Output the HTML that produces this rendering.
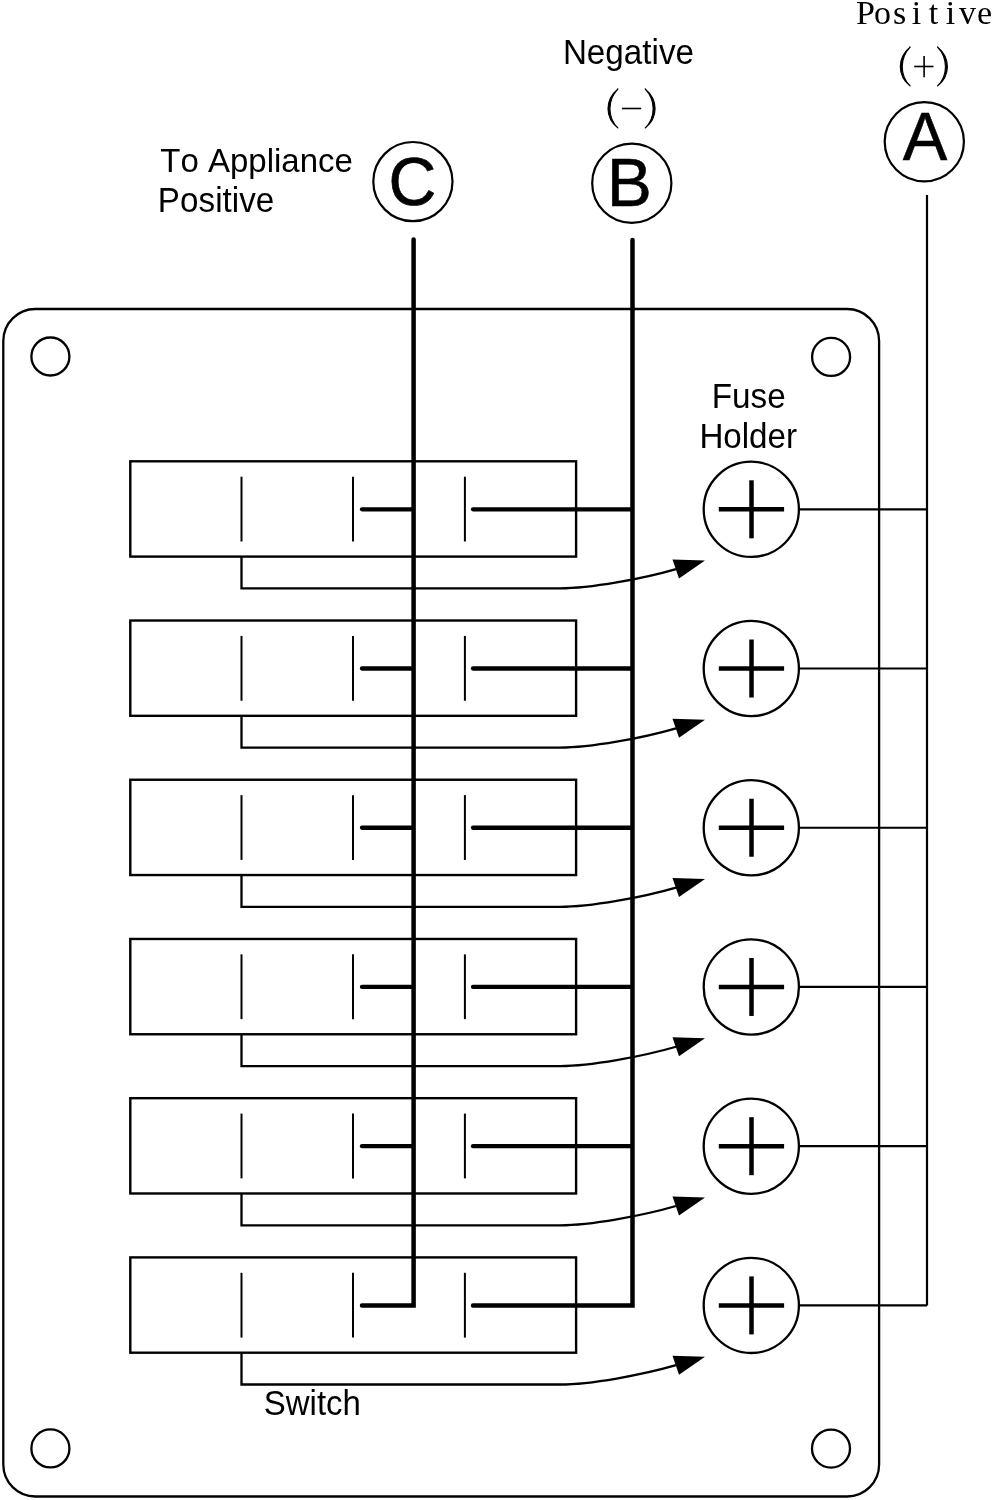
<!DOCTYPE html>
<html><head><meta charset="utf-8"><style>
html,body{margin:0;padding:0;background:#fff;}
body{width:993px;height:1500px;overflow:hidden;position:relative;}
svg{position:absolute;left:0;top:0;filter:grayscale(1);}
text{font-family:"Liberation Sans", sans-serif;fill:#000;font-kerning:none;}
.ser{font-family:"Liberation Serif", serif;}
</style></head><body>
<svg width="993" height="1500" viewBox="0 0 993 1500">
<rect x="3.3" y="309" width="875.8" height="1187.5" rx="32" ry="32" fill="none" stroke="#000" stroke-width="2.3"/>
<circle cx="50.4" cy="356.5" r="19" fill="none" stroke="#000" stroke-width="2.3"/>
<circle cx="831.1" cy="356.9" r="19" fill="none" stroke="#000" stroke-width="2.3"/>
<circle cx="50.4" cy="1448.4" r="19" fill="none" stroke="#000" stroke-width="2.3"/>
<circle cx="831" cy="1448.6" r="19" fill="none" stroke="#000" stroke-width="2.3"/>
<rect x="130.3" y="461.30" width="445.8" height="95.3" fill="none" stroke="#000" stroke-width="2.4"/>
<line x1="241.5" y1="476.70" x2="241.5" y2="541.50" stroke="#000" stroke-width="2"/>
<line x1="353.0" y1="476.70" x2="353.0" y2="541.50" stroke="#000" stroke-width="2"/>
<line x1="464.9" y1="476.70" x2="464.9" y2="541.50" stroke="#000" stroke-width="2"/>
<path d="M241.5 556.60 V588.40 H560 C590 588.40 642.4 578.90 676 569.10" fill="none" stroke="#000" stroke-width="2.3"/>
<path d="M705 560.60 L672.5 559.60 L679 578.60 Z" fill="#000"/>
<circle cx="751.3" cy="509.30" r="47.6" fill="none" stroke="#000" stroke-width="2.3"/>
<line x1="718.8" y1="509.30" x2="784.1" y2="509.30" stroke="#000" stroke-width="4.5"/>
<line x1="751.5" y1="480.30" x2="751.5" y2="538.30" stroke="#000" stroke-width="4.5"/>
<line x1="798.3" y1="509.30" x2="927" y2="509.30" stroke="#000" stroke-width="2.2"/>
<line x1="362" y1="509.30" x2="412" y2="509.30" stroke="#000" stroke-width="4.3" stroke-linecap="round"/>
<line x1="473" y1="509.30" x2="631" y2="509.30" stroke="#000" stroke-width="4.3" stroke-linecap="round"/>
<rect x="130.3" y="620.52" width="445.8" height="95.3" fill="none" stroke="#000" stroke-width="2.4"/>
<line x1="241.5" y1="635.92" x2="241.5" y2="700.72" stroke="#000" stroke-width="2"/>
<line x1="353.0" y1="635.92" x2="353.0" y2="700.72" stroke="#000" stroke-width="2"/>
<line x1="464.9" y1="635.92" x2="464.9" y2="700.72" stroke="#000" stroke-width="2"/>
<path d="M241.5 715.82 V747.62 H560 C590 747.62 642.4 738.12 676 728.32" fill="none" stroke="#000" stroke-width="2.3"/>
<path d="M705 719.82 L672.5 718.82 L679 737.82 Z" fill="#000"/>
<circle cx="751.3" cy="668.52" r="47.6" fill="none" stroke="#000" stroke-width="2.3"/>
<line x1="718.8" y1="668.52" x2="784.1" y2="668.52" stroke="#000" stroke-width="4.5"/>
<line x1="751.5" y1="639.52" x2="751.5" y2="697.52" stroke="#000" stroke-width="4.5"/>
<line x1="798.3" y1="668.52" x2="927" y2="668.52" stroke="#000" stroke-width="2.2"/>
<line x1="362" y1="668.52" x2="412" y2="668.52" stroke="#000" stroke-width="4.3" stroke-linecap="round"/>
<line x1="473" y1="668.52" x2="631" y2="668.52" stroke="#000" stroke-width="4.3" stroke-linecap="round"/>
<rect x="130.3" y="779.74" width="445.8" height="95.3" fill="none" stroke="#000" stroke-width="2.4"/>
<line x1="241.5" y1="795.14" x2="241.5" y2="859.94" stroke="#000" stroke-width="2"/>
<line x1="353.0" y1="795.14" x2="353.0" y2="859.94" stroke="#000" stroke-width="2"/>
<line x1="464.9" y1="795.14" x2="464.9" y2="859.94" stroke="#000" stroke-width="2"/>
<path d="M241.5 875.04 V906.84 H560 C590 906.84 642.4 897.34 676 887.54" fill="none" stroke="#000" stroke-width="2.3"/>
<path d="M705 879.04 L672.5 878.04 L679 897.04 Z" fill="#000"/>
<circle cx="751.3" cy="827.74" r="47.6" fill="none" stroke="#000" stroke-width="2.3"/>
<line x1="718.8" y1="827.74" x2="784.1" y2="827.74" stroke="#000" stroke-width="4.5"/>
<line x1="751.5" y1="798.74" x2="751.5" y2="856.74" stroke="#000" stroke-width="4.5"/>
<line x1="798.3" y1="827.74" x2="927" y2="827.74" stroke="#000" stroke-width="2.2"/>
<line x1="362" y1="827.74" x2="412" y2="827.74" stroke="#000" stroke-width="4.3" stroke-linecap="round"/>
<line x1="473" y1="827.74" x2="631" y2="827.74" stroke="#000" stroke-width="4.3" stroke-linecap="round"/>
<rect x="130.3" y="938.96" width="445.8" height="95.3" fill="none" stroke="#000" stroke-width="2.4"/>
<line x1="241.5" y1="954.36" x2="241.5" y2="1019.16" stroke="#000" stroke-width="2"/>
<line x1="353.0" y1="954.36" x2="353.0" y2="1019.16" stroke="#000" stroke-width="2"/>
<line x1="464.9" y1="954.36" x2="464.9" y2="1019.16" stroke="#000" stroke-width="2"/>
<path d="M241.5 1034.26 V1066.06 H560 C590 1066.06 642.4 1056.56 676 1046.76" fill="none" stroke="#000" stroke-width="2.3"/>
<path d="M705 1038.26 L672.5 1037.26 L679 1056.26 Z" fill="#000"/>
<circle cx="751.3" cy="986.96" r="47.6" fill="none" stroke="#000" stroke-width="2.3"/>
<line x1="718.8" y1="986.96" x2="784.1" y2="986.96" stroke="#000" stroke-width="4.5"/>
<line x1="751.5" y1="957.96" x2="751.5" y2="1015.96" stroke="#000" stroke-width="4.5"/>
<line x1="798.3" y1="986.96" x2="927" y2="986.96" stroke="#000" stroke-width="2.2"/>
<line x1="362" y1="986.96" x2="412" y2="986.96" stroke="#000" stroke-width="4.3" stroke-linecap="round"/>
<line x1="473" y1="986.96" x2="631" y2="986.96" stroke="#000" stroke-width="4.3" stroke-linecap="round"/>
<rect x="130.3" y="1098.18" width="445.8" height="95.3" fill="none" stroke="#000" stroke-width="2.4"/>
<line x1="241.5" y1="1113.58" x2="241.5" y2="1178.38" stroke="#000" stroke-width="2"/>
<line x1="353.0" y1="1113.58" x2="353.0" y2="1178.38" stroke="#000" stroke-width="2"/>
<line x1="464.9" y1="1113.58" x2="464.9" y2="1178.38" stroke="#000" stroke-width="2"/>
<path d="M241.5 1193.48 V1225.28 H560 C590 1225.28 642.4 1215.78 676 1205.98" fill="none" stroke="#000" stroke-width="2.3"/>
<path d="M705 1197.48 L672.5 1196.48 L679 1215.48 Z" fill="#000"/>
<circle cx="751.3" cy="1146.18" r="47.6" fill="none" stroke="#000" stroke-width="2.3"/>
<line x1="718.8" y1="1146.18" x2="784.1" y2="1146.18" stroke="#000" stroke-width="4.5"/>
<line x1="751.5" y1="1117.18" x2="751.5" y2="1175.18" stroke="#000" stroke-width="4.5"/>
<line x1="798.3" y1="1146.18" x2="927" y2="1146.18" stroke="#000" stroke-width="2.2"/>
<line x1="362" y1="1146.18" x2="412" y2="1146.18" stroke="#000" stroke-width="4.3" stroke-linecap="round"/>
<line x1="473" y1="1146.18" x2="631" y2="1146.18" stroke="#000" stroke-width="4.3" stroke-linecap="round"/>
<rect x="130.3" y="1257.40" width="445.8" height="95.3" fill="none" stroke="#000" stroke-width="2.4"/>
<line x1="241.5" y1="1272.80" x2="241.5" y2="1337.60" stroke="#000" stroke-width="2"/>
<line x1="353.0" y1="1272.80" x2="353.0" y2="1337.60" stroke="#000" stroke-width="2"/>
<line x1="464.9" y1="1272.80" x2="464.9" y2="1337.60" stroke="#000" stroke-width="2"/>
<path d="M241.5 1352.70 V1384.50 H560 C590 1384.50 642.4 1375.00 676 1365.20" fill="none" stroke="#000" stroke-width="2.3"/>
<path d="M705 1356.70 L672.5 1355.70 L679 1374.70 Z" fill="#000"/>
<circle cx="751.3" cy="1305.40" r="47.6" fill="none" stroke="#000" stroke-width="2.3"/>
<line x1="718.8" y1="1305.40" x2="784.1" y2="1305.40" stroke="#000" stroke-width="4.5"/>
<line x1="751.5" y1="1276.40" x2="751.5" y2="1334.40" stroke="#000" stroke-width="4.5"/>
<line x1="798.3" y1="1305.40" x2="927" y2="1305.40" stroke="#000" stroke-width="2.2"/>
<path d="M413.6 239.4 V1305.40 H362" fill="none" stroke="#000" stroke-width="4.5" stroke-linecap="round" stroke-linejoin="miter"/>
<path d="M632.5 240 V1305.40 H473" fill="none" stroke="#000" stroke-width="4.5" stroke-linecap="round" stroke-linejoin="miter"/>
<path d="M927 195 V1305.40" fill="none" stroke="#000" stroke-width="2.2"/>
<path d="M617.9 89 C604.7 100 604.7 117.5 617.9 128 C607.3 117.5 607.3 100 617.9 89 Z" fill="#000" stroke="#000" stroke-width="1.1" stroke-linejoin="round"/>
<path d="M645.2 89 C658.4 100 658.4 117.5 645.2 128 C655.8 117.5 655.8 100 645.2 89 Z" fill="#000" stroke="#000" stroke-width="1.1" stroke-linejoin="round"/>
<line x1="621.9" y1="108.5" x2="641.2" y2="108.5" stroke="#000" stroke-width="1.6"/>
<path d="M910.2 47 C897.0 58 897.0 75.5 910.2 86 C899.5999999999999 75.5 899.5999999999999 58 910.2 47 Z" fill="#000" stroke="#000" stroke-width="1.1" stroke-linejoin="round"/>
<path d="M937.5 47 C950.7 58 950.7 75.5 937.5 86 C948.0999999999999 75.5 948.0999999999999 58 937.5 47 Z" fill="#000" stroke="#000" stroke-width="1.1" stroke-linejoin="round"/>
<line x1="914.2" y1="66.5" x2="933.5" y2="66.5" stroke="#000" stroke-width="1.6"/>
<line x1="924.1" y1="56" x2="924.1" y2="77.3" stroke="#000" stroke-width="1.6"/>
<circle cx="412.9" cy="181.6" r="39.6" fill="none" stroke="#000" stroke-width="2.2"/>
<circle cx="631.8" cy="183.3" r="39.6" fill="none" stroke="#000" stroke-width="2.2"/>
<circle cx="924.3" cy="141.8" r="39.6" fill="none" stroke="#000" stroke-width="2.2"/>
<text transform="translate(160.26,171.60) scale(1,1.0333)" font-size="33.00">To Appliance</text>
<text transform="translate(157.87,211.50) scale(1,1.0289)" font-size="33.24">Positive</text>
<text transform="translate(562.88,63.80) scale(1,1.0415)" font-size="33.22">Negative</text>
<text transform="translate(711.77,407.80) scale(1,1.0319)" font-size="33.24">Fuse</text>
<text transform="translate(699.38,447.80) scale(1,1.0404)" font-size="33.16">Holder</text>
<text transform="translate(263.80,1414.80) scale(1,1.0440)" font-size="32.95">Switch</text>
<text transform="translate(388.54,205.30) scale(1,1.0424)" font-size="66.10" stroke="#000" stroke-width="0.7">C</text>
<text transform="translate(606.75,205.90) scale(1,1.0222)" font-size="67.70" stroke="#000" stroke-width="0.5">B</text>
<text transform="translate(902.67,159.70) scale(1,1.0299)" font-size="66.80" stroke="#000" stroke-width="0.5">A</text>
<text class="ser" x="865.50 882.50 899.50 916.50 933.50 950.50 967.50 984.50" y="24.3" font-size="34" text-anchor="middle">Positive</text>
</svg>
</body></html>
